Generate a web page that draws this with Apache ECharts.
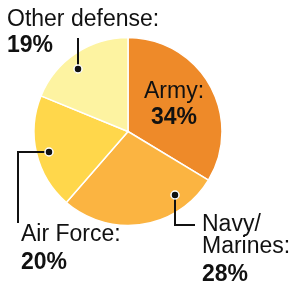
<!DOCTYPE html>
<html><head><meta charset="utf-8">
<script src="https://cdn.jsdelivr.net/npm/echarts@6/dist/echarts.min.js"></script>
<style>html,body{margin:0;padding:0;background:#fff}#c{width:292px;height:286px}</style>
</head><body><div id="c"></div>
<script>
const categories = ['Army', 'Navy/Marines', 'Air Force', 'Other defense'];
const labelLines = [['Army:'], ['Navy/', 'Marines:'], ['Air Force:'], ['Other defense:']];
const values = [34, 28, 20, 19];
const colors = ['#EE8A29', '#FBB441', '#FFD74B', '#FDF3A1'];

const labelPos = [
  {x: 174, y: 81, align: 'center'},
  {x: 202, y: 214, align: 'left'},
  {x: 21, y: 224, align: 'left'},
  {x: 7, y: 9, align: 'left'}
];

const chart = echarts.init(document.getElementById('c'));
const font = '"Liberation Sans", Arial, sans-serif';
const g = (el) => Object.assign({z: 100}, el);
chart.setOption({
  animation: false,
  series: [{
    type: 'pie',
    center: [128, 131.5],
    radius: 94,
    startAngle: 90,
    clockwise: true,
    silent: true,
    itemStyle: {borderColor: '#fff', borderWidth: 1.5},
    label: {
      show: true,
      position: 'inside',
      fontFamily: font,
      color: '#111',
      formatter: function (p) {
        const lines = labelLines[p.dataIndex].map(s => '{a|' + s + '}');
        const tag = (p.dataIndex === 0 || p.dataIndex === 3) ? 'c' : 'b';
        return lines.join('\n') + '\n{' + tag + '|' + p.value + '%}';
      },
      rich: {
        a: {fontSize: 23, lineHeight: 22, fontFamily: font, color: '#111'},
        b: {fontSize: 23, lineHeight: 34, fontWeight: 'bold', fontFamily: font, color: '#111'},
        c: {fontSize: 23, lineHeight: 30, fontWeight: 'bold', fontFamily: font, color: '#111'}
      }
    },
    labelLine: {show: false},
    labelLayout: function (params) {
      const lp = labelPos[params.dataIndex];
      return {x: lp.x, y: lp.y, align: lp.align, verticalAlign: 'top'};
    },
    data: categories.map((c, i) => ({name: c, value: values[i], itemStyle: {color: colors[i]}}))
  }],
  graphic: [
    g({type: 'polyline', shape: {points: [[78, 69], [78, 38]]}, style: {stroke: '#111', lineWidth: 2, fill: null}}),
    g({type: 'polyline', shape: {points: [[49, 152], [18, 152], [18, 223]]}, style: {stroke: '#111', lineWidth: 2, fill: null}}),
    g({type: 'polyline', shape: {points: [[175, 195], [175, 225], [195, 225]]}, style: {stroke: '#111', lineWidth: 2, fill: null}}),
    g({type: 'circle', shape: {cx: 78, cy: 69, r: 4}, style: {fill: '#111', stroke: '#fff', lineWidth: 1.5}}),
    g({type: 'circle', shape: {cx: 49, cy: 152, r: 4}, style: {fill: '#111', stroke: '#fff', lineWidth: 1.5}}),
    g({type: 'circle', shape: {cx: 175, cy: 195, r: 4}, style: {fill: '#111', stroke: '#fff', lineWidth: 1.5}})
  ]
});
</script></body></html>
